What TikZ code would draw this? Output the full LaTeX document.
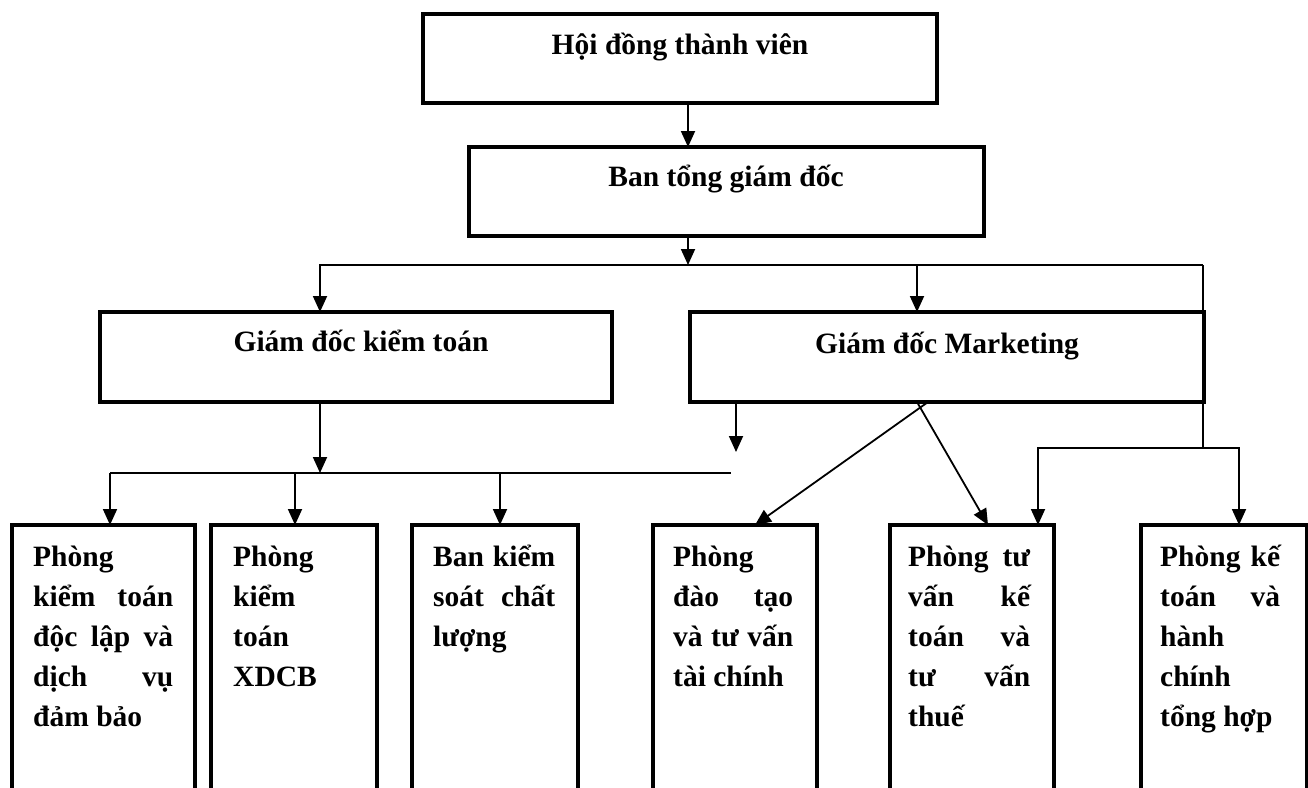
\documentclass[tikz,border=0pt]{standalone}
\usepackage{fontspec}
\setmainfont{Liberation Serif}
\usetikzlibrary{arrows.meta}
\begin{document}
\begin{tikzpicture}[x=1pt,y=-1pt,
  boxed/.style={draw, line width=3.5pt, rectangle, inner sep=0pt, outer sep=0pt, anchor=north west},
  title/.style={font=\fontsize{29.5}{35}\selectfont\bfseries, inner sep=0pt, anchor=base},
  lowtext/.style={font=\fontsize{29.5}{40}\selectfont\bfseries, inner sep=0pt, anchor=base west},
  conn/.style={line width=1.8pt},
  arr/.style={line width=1.8pt, -{Triangle[length=16pt,width=14pt]}}]
\useasboundingbox (0,0) rectangle (1308,787);
\fill[white] (0,0) rectangle (1308,787);
\clip (0,0) rectangle (1308,787);

% upper boxes
\node[boxed, minimum width=514pt, minimum height=89pt] (hd) at (423,14) {};
\node[boxed, minimum width=515pt, minimum height=89pt] (bt) at (469,147) {};
\node[boxed, minimum width=512pt, minimum height=90pt] (kt) at (100,312) {};
\node[boxed, minimum width=514pt, minimum height=90pt] (mk) at (690,312) {};

\node[title] (thd) at (680,54) {Hội đồng thành viên};
\node[title] (tbt) at (726,186) {Ban tổng giám đốc};
\node[title] (tkt) at (361,351) {Giám đốc kiểm toán};
\node[title] (tmk) at (947,353) {Giám đốc Marketing};

% lower boxes (open at the bottom edge)
\node[boxed, minimum width=183pt, minimum height=300pt] (p1) at (12,525) {};
\node[boxed, minimum width=166pt, minimum height=300pt] (p2) at (211,525) {};
\node[boxed, minimum width=166pt, minimum height=300pt] (p3) at (412,525) {};
\node[boxed, minimum width=164pt, minimum height=300pt] (p4) at (653,525) {};
\node[boxed, minimum width=164pt, minimum height=300pt] (p5) at (890,525) {};
\node[boxed, minimum width=166pt, minimum height=300pt] (p6) at (1141,525) {};

\node[lowtext] (tp1) at (33,566) {\parbox[t]{140pt}{\raggedright Phòng\\ kiểm\hfill toán\\ độc\hfill lập\hfill và\\ dịch\hfill vụ\\ đảm bảo}};
\node[lowtext] (tp2) at (233,566) {\parbox[t]{122pt}{\raggedright Phòng\\ kiểm\\ toán\\ XDCB}};
\node[lowtext] (tp3) at (433,566) {\parbox[t]{122pt}{\raggedright Ban\hfill kiểm\\ soát\hfill chất\\ lượng}};
\node[lowtext] (tp4) at (673,566) {\parbox[t]{120pt}{\raggedright Phòng\\ đào\hfill tạo\\ và\hfill tư\hfill vấn\\ tài chính}};
\node[lowtext] (tp5) at (908,566) {\parbox[t]{122pt}{\raggedright Phòng\hfill tư\\ vấn\hfill kế\\ toán\hfill và\\ tư\hfill vấn\\ thuế}};
\node[lowtext] (tp6) at (1160,566) {\parbox[t]{120pt}{\raggedright Phòng\hfill kế\\ toán\hfill và\\ hành\\ chính\\ tổng hợp}};

% junction coordinates
\coordinate (b1) at (688,265);
\coordinate (bl) at (320,265);
\coordinate (bm) at (917,265);
\coordinate (br) at (1203,265);
\coordinate (r1) at (1203,448);
\coordinate (r5) at (1038,448);
\coordinate (r6) at (1239,448);
\coordinate (k0) at (320,473);
\coordinate (kl) at (110,473);
\coordinate (k2) at (295,473);
\coordinate (k3) at (500,473);
\coordinate (kr) at (731,473);
\coordinate (m1) at (736,452);
\coordinate (dA) at (928,402);
\coordinate (dB) at (917,402);
\coordinate (tA) at (755,525);
\coordinate (tB) at (988,525);

% connectors
\draw[arr] (hd.south -| b1) -- (bt.north -| b1);
\draw[arr] (bt.south -| b1) -- (b1);
\draw[arr] (br) -- (bl) -- (kt.north -| bl);
\draw[arr] (bm) -- (mk.north -| bm);
\draw[conn] (br) -- (r1);
\draw[arr] (r1) -- (r5) -- (p5.north -| r5);
\draw[arr] (r1) -- (r6) -- (p6.north -| r6);

\draw[arr] (kt.south -| k0) -- (k0);
\draw[conn] (kl) -- (kr);
\draw[arr] (kl) -- (p1.north -| kl);
\draw[arr] (k2) -- (p2.north -| k2);
\draw[arr] (k3) -- (p3.north -| k3);

\draw[arr] (mk.south -| m1) -- (m1);
\draw[arr] (mk.south -| dA) -- (p4.north -| tA);
\draw[arr] (mk.south -| dB) -- (p5.north -| tB);
\end{tikzpicture}
\end{document}
